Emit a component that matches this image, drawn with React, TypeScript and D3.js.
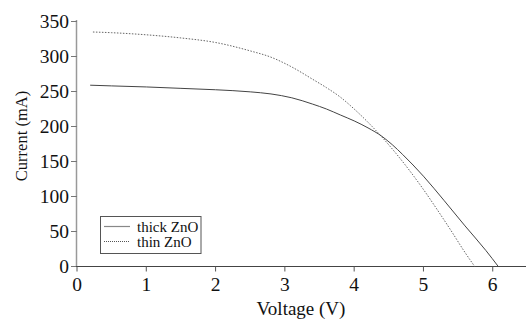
import React from "react";
import * as d3 from "d3";

const thickV = [0.19, 0.5, 1.0, 1.5, 2.0, 2.5, 2.8, 3.1, 3.4, 3.6, 3.8, 4.0, 4.2, 4.4, 4.55, 4.7, 5.0, 5.3, 5.6, 5.9, 6.08];
const thickI = [259, 258, 256.5, 254.5, 252.5, 249.5, 246.5, 241, 232, 225, 216.5, 208, 198, 186, 174, 160, 129, 94, 58, 23, 0];
const thinV = [0.23, 0.5, 1.0, 1.5, 2.0, 2.5, 2.8, 3.1, 3.4, 3.6, 3.8, 4.0, 4.2, 4.4, 4.6, 4.8, 5.0, 5.2, 5.4, 5.6, 5.74];
const thinI = [335, 334, 331, 326.5, 320, 308, 299, 285, 267.5, 255.5, 242, 225, 206, 185, 162, 137, 110, 81, 51, 20, 0];
const xTicks = [0, 1, 2, 3, 4, 5, 6];
const yTicks = [0, 50, 100, 150, 200, 250, 300, 350];
const seriesNames = ["thick ZnO", "thin ZnO"];

export default function App() {
  const W = 526, H = 320;
  const x = d3.scaleLinear().domain([0, 6.48]).range([77, 526]);
  const y = d3.scaleLinear().domain([0, 350]).range([266.5, 21.5]);
  const line = d3.line<[number, number]>().x(d => x(d[0])).y(d => y(d[1])).curve(d3.curveMonotoneX);
  const thick = thickV.map((v, i) => [v, thickI[i]] as [number, number]);
  const thin = thinV.map((v, i) => [v, thinI[i]] as [number, number]);
  const font = "'Liberation Serif', 'Times New Roman', serif";
  const x0 = x(0);
  const y0 = y(0);
  return (
    <svg width={W} height={H} style={{ position: "absolute", left: 0, top: 0, background: "#fff" }}>
      <line x1={x0 - 0.5} x2={x0 - 0.5} y1={y(350) - 1.5} y2={y0} stroke="#999" strokeWidth={1.5} />
      {yTicks.map(t => (
        <g key={"y" + t}>
          <line x1={x0 - 6} x2={x0} y1={y(t)} y2={y(t)} stroke="#777" strokeWidth={1} />
          <text x={x0 - 8} y={y(t)} dy="0.34em" textAnchor="end" fontSize={19.5} fontFamily={font} fill="#111">{t}</text>
        </g>
      ))}
      <line x1={x0 - 1} x2={W} y1={y0} y2={y0} stroke="#444" strokeWidth={1} />
      {xTicks.map(t => (
        <g key={"x" + t}>
          <line x1={x(t)} x2={x(t)} y1={y0} y2={y0 + 5} stroke="#555" strokeWidth={1} />
          <text x={x(t)} y={y0 + 24} textAnchor="middle" fontSize={19.5} fontFamily={font} fill="#111">{t}</text>
        </g>
      ))}
      <text x={301} y={315} textAnchor="middle" fontSize={19} fontFamily={font} fill="#111">Voltage (V)</text>
      <text transform="translate(27,136) rotate(-90)" textAnchor="middle" fontSize={16.5} fontFamily={font} fill="#111">Current (mA)</text>
      <path d={line(thin) || ""} fill="none" stroke="#666" strokeWidth={1} strokeDasharray="1.5,1.5" />
      <path d={line(thick) || ""} fill="none" stroke="#444" strokeWidth={1} />
      <rect x={100.5} y={216.5} width={100.5} height={37} fill="#fff" stroke="#555" strokeWidth={1} />
      <line x1={104} x2={130} y1={226.5} y2={226.5} stroke="#888" strokeWidth={1.2} />
      <line x1={104} x2={130} y1={241.5} y2={241.5} stroke="#555" strokeWidth={1} strokeDasharray="1,1" />
      <text x={137} y={226.5} dy="0.34em" fontSize={15} fontFamily={font} fill="#111">{seriesNames[0]}</text>
      <text x={137} y={241.5} dy="0.34em" fontSize={15} fontFamily={font} fill="#111">{seriesNames[1]}</text>
    </svg>
  );
}
